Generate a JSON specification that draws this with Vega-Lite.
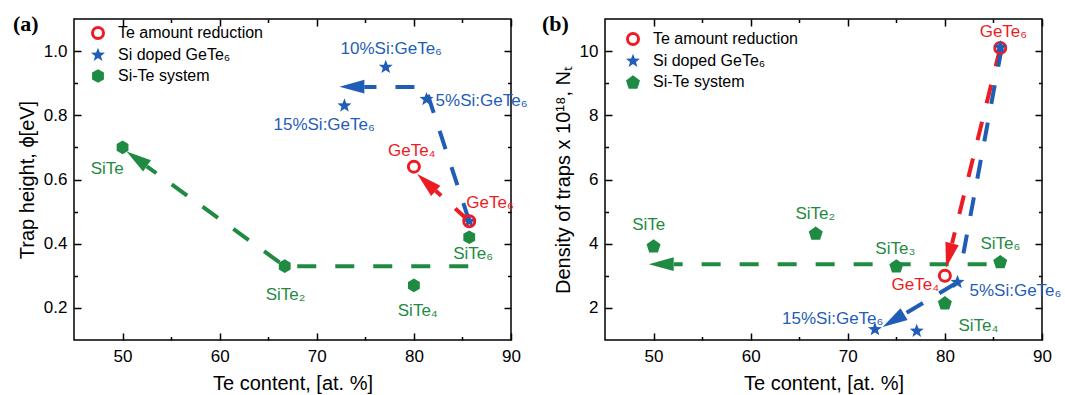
{
  "$schema": "https://vega.github.io/schema/vega-lite/v6.json",
  "padding": {"left": 12, "top": 12, "right": 0, "bottom": 0},
  "autosize": {"type": "pad"},
  "spacing": 94,
  "bounds": "flush",
  "datasets": {
    "pointsA": [
      {"series": "Si doped GeTe₆", "x": 85.7, "y": 0.47},
      {"series": "Si doped GeTe₆", "x": 81.3, "y": 0.85},
      {"series": "Si doped GeTe₆", "x": 77.1, "y": 0.95},
      {"series": "Si doped GeTe₆", "x": 72.85, "y": 0.83},
      {"series": "Si-Te system", "x": 50, "y": 0.70},
      {"series": "Si-Te system", "x": 66.7, "y": 0.33},
      {"series": "Si-Te system", "x": 80, "y": 0.27},
      {"series": "Si-Te system", "x": 85.7, "y": 0.42},
      {"series": "Te amount reduction", "x": 80, "y": 0.64},
      {"series": "Te amount reduction", "x": 85.7, "y": 0.47}
    ],
    "labelsA": [
      {"series": "Si doped GeTe₆", "text": "10%Si:GeTe₆", "x": 77.67, "y": 0.99},
      {"series": "Si doped GeTe₆", "text": "15%Si:GeTe₆", "x": 70.76, "y": 0.754},
      {"series": "Si doped GeTe₆", "text": "5%Si:GeTe₆", "x": 86.97, "y": 0.829},
      {"series": "Te amount reduction", "text": "GeTe₄", "x": 79.78, "y": 0.673},
      {"series": "Te amount reduction", "text": "GeTe₆", "x": 87.84, "y": 0.512},
      {"series": "Si-Te system", "text": "SiTe", "x": 48.42, "y": 0.617},
      {"series": "Si-Te system", "text": "SiTe₂", "x": 66.78, "y": 0.225},
      {"series": "Si-Te system", "text": "SiTe₄", "x": 80.4, "y": 0.175},
      {"series": "Si-Te system", "text": "SiTe₆", "x": 86.1, "y": 0.352}
    ],
    "linesA": [
      {"arrow": "red", "series": "Te amount reduction", "i": 0, "x": 85.7, "y": 0.47},
      {"arrow": "red", "series": "Te amount reduction", "i": 1, "x": 82.25, "y": 0.565},
      {"arrow": "blue", "series": "Si doped GeTe₆", "i": 0, "x": 85.7, "y": 0.47},
      {"arrow": "blue", "series": "Si doped GeTe₆", "i": 1, "x": 81.17, "y": 0.888},
      {"arrow": "blue", "series": "Si doped GeTe₆", "i": 2, "x": 74.9, "y": 0.888},
      {"arrow": "green", "series": "Si-Te system", "i": 0, "x": 85.6, "y": 0.33},
      {"arrow": "green", "series": "Si-Te system", "i": 1, "x": 66.7, "y": 0.33},
      {"arrow": "green", "series": "Si-Te system", "i": 2, "x": 52.5, "y": 0.641}
    ],
    "headsA": [
      {"arrow": "red", "series": "Te amount reduction", "x": 80.34, "y": 0.617},
      {"arrow": "blue", "series": "Si doped GeTe₆", "x": 72.33, "y": 0.889},
      {"arrow": "green", "series": "Si-Te system", "x": 50.41, "y": 0.687}
    ],
    "pointsB": [
      {"series": "Te amount reduction", "x": 85.7, "y": 10.1},
      {"series": "Te amount reduction", "x": 80, "y": 3.0},
      {"series": "Si-Te system", "x": 50, "y": 3.93},
      {"series": "Si-Te system", "x": 66.7, "y": 4.33},
      {"series": "Si-Te system", "x": 75, "y": 3.31},
      {"series": "Si-Te system", "x": 80, "y": 2.16},
      {"series": "Si-Te system", "x": 85.7, "y": 3.44},
      {"series": "Si doped GeTe₆", "x": 85.7, "y": 10.12},
      {"series": "Si doped GeTe₆", "x": 81.3, "y": 2.8},
      {"series": "Si doped GeTe₆", "x": 77.1, "y": 1.28},
      {"series": "Si doped GeTe₆", "x": 72.8, "y": 1.33}
    ],
    "labelsB": [
      {"series": "Te amount reduction", "text": "GeTe₆", "x": 86.03, "y": 10.45},
      {"series": "Te amount reduction", "text": "GeTe₄", "x": 76.96, "y": 2.55},
      {"series": "Si-Te system", "text": "SiTe", "x": 49.5, "y": 4.42},
      {"series": "Si-Te system", "text": "SiTe₂", "x": 66.65, "y": 4.76},
      {"series": "Si-Te system", "text": "SiTe₃", "x": 74.9, "y": 3.67},
      {"series": "Si-Te system", "text": "SiTe₆", "x": 85.72, "y": 3.83},
      {"series": "Si-Te system", "text": "SiTe₄", "x": 83.45, "y": 1.28},
      {"series": "Si doped GeTe₆", "text": "5%Si:GeTe₆", "x": 87.27, "y": 2.37},
      {"series": "Si doped GeTe₆", "text": "15%Si:GeTe₆", "x": 68.45, "y": 1.51}
    ],
    "linesB": [
      {"arrow": "red", "series": "Te amount reduction", "i": 0, "x": 85.7, "y": 10.1},
      {"arrow": "red", "series": "Te amount reduction", "i": 1, "x": 80.74, "y": 4.01},
      {"arrow": "blue1", "series": "Si doped GeTe₆", "i": 0, "x": 85.85, "y": 10.1},
      {"arrow": "blue1", "series": "Si doped GeTe₆", "i": 1, "x": 81.8, "y": 3.52},
      {"arrow": "blue2", "series": "Si doped GeTe₆", "i": 0, "x": 81.1, "y": 2.76},
      {"arrow": "blue2", "series": "Si doped GeTe₆", "i": 1, "x": 75.8, "y": 1.8},
      {"arrow": "green", "series": "Si-Te system", "i": 0, "x": 84.3, "y": 3.36},
      {"arrow": "green", "series": "Si-Te system", "i": 1, "x": 52.1, "y": 3.36}
    ],
    "headsB": [
      {"arrow": "red", "series": "Te amount reduction", "x": 80.12, "y": 3.25},
      {"arrow": "blue2", "series": "Si doped GeTe₆", "x": 73.59, "y": 1.405},
      {"arrow": "green", "series": "Si-Te system", "x": 49.5, "y": 3.36}
    ]
  },
  "hconcat": [
    {
      "width": 437,
      "height": 321,
      "title": {"text": "(a)", "anchor": "start", "frame": "group", "offset": 0, "dx": -61, "dy": 35, "baseline": "alphabetic", "font": "Liberation Serif", "fontSize": 22, "fontWeight": "bold", "color": "#000"},
      "layer": [
        {
          "data": {"name": "linesA"},
          "mark": {"type": "line", "strokeWidth": 4, "strokeDash": [19, 19], "strokeCap": "butt"},
          "encoding": {
            "x": {"field": "x", "type": "quantitative", "scale": {"domain": [45, 90], "nice": false, "zero": false},
              "axis": {"orient": "bottom", "values": [50, 60, 70, 80, 90], "title": "Te content, [at. %]", "tickSize": -7, "labelPadding": 15, "titlePadding": 9}},
            "y": {"field": "y", "type": "quantitative", "scale": {"domain": [0.1, 1.1], "nice": false, "zero": false},
              "axis": {"orient": "left", "values": [0.2, 0.4, 0.6, 0.8, 1.0], "format": ".1f", "title": "Trap height, ϕ[eV]", "tickSize": -7, "labelPadding": 14, "titlePadding": 6}},
            "color": {"field": "series", "type": "nominal", "scale": {"domain": ["Si-Te system", "Si doped GeTe₆", "Te amount reduction"], "range": ["#1f8a42", "#1f5db6", "#ec1c24"]}, "legend": null},
            "detail": {"field": "arrow"},
            "order": {"field": "i", "type": "quantitative"}
          }
        },
        {
          "data": {"name": "headsA"},
          "mark": {"type": "point", "shape": "M0,0L0.55,2L-0.55,2Z", "size": 625, "filled": true, "opacity": 1, "strokeWidth": 0},
          "encoding": {
            "x": {"field": "x", "type": "quantitative", "scale": {"domain": [45, 90], "nice": false, "zero": false},
              "axis": {"orient": "top", "values": [50, 60, 70, 80, 90], "labels": false, "title": null, "tickSize": -7}},
            "y": {"field": "y", "type": "quantitative", "scale": {"domain": [0.1, 1.1], "nice": false, "zero": false},
              "axis": {"orient": "right", "values": [0.2, 0.4, 0.6, 0.8, 1.0], "labels": false, "title": null, "tickSize": -7}},
            "color": {"field": "series", "type": "nominal", "scale": {"domain": ["Si-Te system", "Si doped GeTe₆", "Te amount reduction"], "range": ["#1f8a42", "#1f5db6", "#ec1c24"]}, "legend": null},
            "angle": {"condition": [{"test": "datum.arrow === 'red'", "value": 312}, {"test": "datum.arrow === 'green'", "value": 305}], "value": 270}
          }
        },
        {
          "data": {"name": "pointsA"},
          "mark": {"type": "point", "size": 121, "strokeWidth": 3, "opacity": 1, "filled": true},
          "encoding": {
            "x": {"field": "x", "type": "quantitative", "scale": {"domain": [45, 90], "nice": false, "zero": false},
              "axis": {"orient": "bottom", "values": [55, 65, 75, 85], "labels": false, "title": null, "tickSize": -3.5}},
            "y": {"field": "y", "type": "quantitative", "scale": {"domain": [0.1, 1.1], "nice": false, "zero": false},
              "axis": {"orient": "left", "values": [0.3, 0.5, 0.7, 0.9], "labels": false, "title": null, "tickSize": -3.5}},
            "shape": {"field": "series", "type": "nominal", "scale": {"domain": ["Te amount reduction", "Si doped GeTe₆", "Si-Te system"], "range": ["circle", "M0,-1.34L0.331,-0.455L1.274,-0.414L0.535,0.174L0.788,1.084L0,0.563L-0.788,1.084L-0.535,0.174L-1.274,-0.414L-0.331,-0.455Z", "M0,-1.24L1.074,-0.62L1.074,0.62L0,1.24L-1.074,0.62L-1.074,-0.62Z"]},
              "legend": {"title": null, "orient": "none", "legendX": 16, "legendY": 6}},
            "fill": {"field": "series", "type": "nominal", "scale": {"domain": ["Te amount reduction", "Si doped GeTe₆", "Si-Te system"], "range": ["transparent", "#1f5db6", "#1f8a42"]}},
            "stroke": {"field": "series", "type": "nominal", "scale": {"domain": ["Te amount reduction", "Si doped GeTe₆", "Si-Te system"], "range": ["#ec1c24", "transparent", "transparent"]}}
          }
        },
        {
          "data": {"name": "labelsA"},
          "mark": {"type": "text", "font": "Liberation Sans", "fontSize": 17, "align": "center", "baseline": "alphabetic"},
          "encoding": {
            "x": {"field": "x", "type": "quantitative", "scale": {"domain": [45, 90], "nice": false, "zero": false},
              "axis": {"orient": "top", "values": [55, 65, 75, 85], "labels": false, "title": null, "tickSize": -3.5}},
            "y": {"field": "y", "type": "quantitative", "scale": {"domain": [0.1, 1.1], "nice": false, "zero": false},
              "axis": {"orient": "right", "values": [0.3, 0.5, 0.7, 0.9], "labels": false, "title": null, "tickSize": -3.5}},
            "text": {"field": "text"},
            "color": {"field": "series", "type": "nominal", "scale": {"domain": ["Si-Te system", "Si doped GeTe₆", "Te amount reduction"], "range": ["#1f8a42", "#1f5db6", "#ec1c24"]}, "legend": null}
          }
        }
      ],
      "resolve": {"axis": {"x": "independent", "y": "independent"}}
    },
    {
      "width": 437,
      "height": 321,
      "title": {"text": "(b)", "anchor": "start", "frame": "group", "offset": 0, "dx": -63, "dy": 35, "baseline": "alphabetic", "font": "Liberation Serif", "fontSize": 22, "fontWeight": "bold", "color": "#000"},
      "layer": [
        {
          "data": {"name": "linesB"},
          "mark": {"type": "line", "strokeWidth": 4, "strokeDash": [19, 19], "strokeCap": "butt"},
          "encoding": {
            "x": {"field": "x", "type": "quantitative", "scale": {"domain": [45, 90], "nice": false, "zero": false},
              "axis": {"orient": "bottom", "values": [50, 60, 70, 80, 90], "title": "Te content, [at. %]", "tickSize": -7, "labelPadding": 15, "titlePadding": 9}},
            "y": {"field": "y", "type": "quantitative", "scale": {"domain": [1, 11], "nice": false, "zero": false},
              "axis": {"orient": "left", "values": [2, 4, 6, 8, 10], "format": "d", "title": "Density of traps x 10¹⁸, Nₜ", "tickSize": -7, "labelPadding": 14, "titlePadding": 6}},
            "color": {"field": "series", "type": "nominal", "scale": {"domain": ["Si-Te system", "Si doped GeTe₆", "Te amount reduction"], "range": ["#1f8a42", "#1f5db6", "#ec1c24"]}, "legend": null},
            "detail": {"field": "arrow"},
            "order": {"field": "i", "type": "quantitative"}
          }
        },
        {
          "data": {"name": "headsB"},
          "mark": {"type": "point", "shape": "M0,0L0.55,2L-0.55,2Z", "size": 625, "filled": true, "opacity": 1, "strokeWidth": 0},
          "encoding": {
            "x": {"field": "x", "type": "quantitative", "scale": {"domain": [45, 90], "nice": false, "zero": false},
              "axis": {"orient": "top", "values": [50, 60, 70, 80, 90], "labels": false, "title": null, "tickSize": -7}},
            "y": {"field": "y", "type": "quantitative", "scale": {"domain": [1, 11], "nice": false, "zero": false},
              "axis": {"orient": "right", "values": [2, 4, 6, 8, 10], "labels": false, "title": null, "tickSize": -7}},
            "color": {"field": "series", "type": "nominal", "scale": {"domain": ["Si-Te system", "Si doped GeTe₆", "Te amount reduction"], "range": ["#1f8a42", "#1f5db6", "#ec1c24"]}, "legend": null},
            "angle": {"condition": [{"test": "datum.arrow === 'red'", "value": 194}, {"test": "datum.arrow === 'blue2'", "value": 239}], "value": 270}
          }
        },
        {
          "data": {"name": "pointsB"},
          "mark": {"type": "point", "size": 121, "strokeWidth": 3, "opacity": 1, "filled": true},
          "encoding": {
            "x": {"field": "x", "type": "quantitative", "scale": {"domain": [45, 90], "nice": false, "zero": false},
              "axis": {"orient": "bottom", "values": [55, 65, 75, 85], "labels": false, "title": null, "tickSize": -3.5}},
            "y": {"field": "y", "type": "quantitative", "scale": {"domain": [1, 11], "nice": false, "zero": false},
              "axis": {"orient": "left", "values": [3, 5, 7, 9], "labels": false, "title": null, "tickSize": -3.5}},
            "shape": {"field": "series", "type": "nominal", "scale": {"domain": ["Te amount reduction", "Si doped GeTe₆", "Si-Te system"], "range": ["circle", "M0,-1.34L0.331,-0.455L1.274,-0.414L0.535,0.174L0.788,1.084L0,0.563L-0.788,1.084L-0.535,0.174L-1.274,-0.414L-0.331,-0.455Z", "M0,-1.212L1.274,-0.286L0.788,1.212L-0.788,1.212L-1.274,-0.286Z"]},
              "legend": {"title": null, "orient": "none", "legendX": 20, "legendY": 12}},
            "fill": {"field": "series", "type": "nominal", "scale": {"domain": ["Te amount reduction", "Si doped GeTe₆", "Si-Te system"], "range": ["transparent", "#1f5db6", "#1f8a42"]}},
            "stroke": {"field": "series", "type": "nominal", "scale": {"domain": ["Te amount reduction", "Si doped GeTe₆", "Si-Te system"], "range": ["#ec1c24", "transparent", "transparent"]}}
          }
        },
        {
          "data": {"name": "labelsB"},
          "mark": {"type": "text", "font": "Liberation Sans", "fontSize": 17, "align": "center", "baseline": "alphabetic"},
          "encoding": {
            "x": {"field": "x", "type": "quantitative", "scale": {"domain": [45, 90], "nice": false, "zero": false},
              "axis": {"orient": "top", "values": [55, 65, 75, 85], "labels": false, "title": null, "tickSize": -3.5}},
            "y": {"field": "y", "type": "quantitative", "scale": {"domain": [1, 11], "nice": false, "zero": false},
              "axis": {"orient": "right", "values": [3, 5, 7, 9], "labels": false, "title": null, "tickSize": -3.5}},
            "text": {"field": "text"},
            "color": {"field": "series", "type": "nominal", "scale": {"domain": ["Si-Te system", "Si doped GeTe₆", "Te amount reduction"], "range": ["#1f8a42", "#1f5db6", "#ec1c24"]}, "legend": null}
          }
        }
      ],
      "resolve": {"axis": {"x": "independent", "y": "independent"}}
    }
  ],
  "resolve": {
    "scale": {"x": "independent", "y": "independent", "color": "independent", "shape": "independent", "fill": "independent", "stroke": "independent"},
    "legend": {"shape": "independent", "fill": "independent", "stroke": "independent", "color": "independent"},
    "axis": {"x": "independent", "y": "independent"}
  },
  "config": {
    "background": "white",
    "view": {"stroke": "#000", "strokeWidth": 1.5},
    "font": "Liberation Sans",
    "axis": {"grid": false, "domain": false, "tickWidth": 1.5, "tickColor": "#000", "labelFont": "Liberation Sans", "labelFontSize": 17, "labelColor": "#000", "titleFont": "Liberation Sans", "titleFontSize": 20, "titleFontWeight": "normal", "titleColor": "#000", "labelFlush": false, "labelOverlap": false},
    "legend": {"labelFont": "Liberation Sans", "labelFontSize": 16, "labelColor": "#000", "rowPadding": -4, "labelOffset": 12, "padding": 0, "symbolSize": 121, "symbolStrokeWidth": 3}
  }
}
